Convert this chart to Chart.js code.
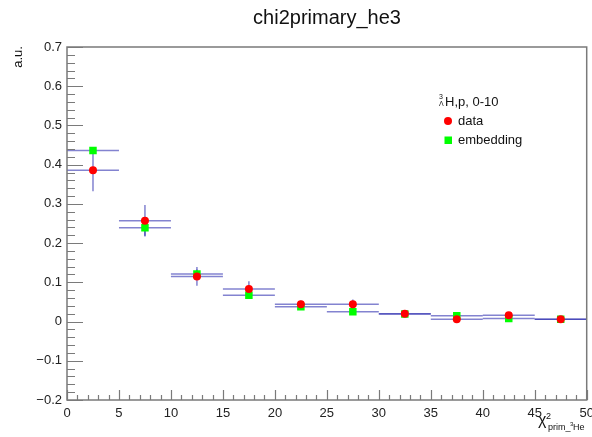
<!DOCTYPE html>
<html>
<head>
<meta charset="utf-8">
<script src="https://cdn.jsdelivr.net/npm/chart.js@4"></script>
<style>
  html, body { margin: 0; padding: 0; background: #fff; }
  #wrap { width: 592px; height: 437px; }
</style>
</head>
<body>
<div id="wrap"><canvas id="chart" width="592" height="437"></canvas></div>
<script>
// bin centres and half widths (chi2 of primary 3He)
const binCenters = [2.5, 7.5, 12.5, 17.5, 22.5, 27.5, 32.5, 37.5, 42.5, 47.5];
const binHalfWidth = 2.5;

// data (red circles)
const dataVals = [0.386, 0.257, 0.115, 0.083, 0.044, 0.044, 0.020, 0.006, 0.016, 0.006];
const dataErr  = [0.054, 0.040, 0.024, 0.020, 0.010, 0.012, 0.005, 0.004, 0.005, 0.004];

// embedding (green squares)
const embVals = [0.436, 0.239, 0.121, 0.067, 0.038, 0.025, 0.019, 0.015, 0.008, 0.006];
const embErr  = [0.006, 0.020, 0.012, 0.008, 0.005, 0.004, 0.003, 0.003, 0.002, 0.002];

const yTicks = [-0.2, -0.1, 0, 0.1, 0.2, 0.3, 0.4, 0.5, 0.6, 0.7];
const xTicks = [0, 5, 10, 15, 20, 25, 30, 35, 40, 45, 50];

const FONT = "'Liberation Sans', Arial, sans-serif";

function toPoints(vals, errs) {
    return binCenters.map((x, i) => ({ x: x, y: vals[i], err: errs[i] }));
}

// error bars, drawn under the markers
const errorBars = {
    id: 'errorBars',
    beforeDatasetsDraw(chart) {
        const ctx = chart.ctx;
        const xs = chart.scales.x, ys = chart.scales.y;
        ctx.save();
        ctx.strokeStyle = 'rgba(30,30,170,0.55)';
        ctx.lineWidth = 1.5;
        chart.data.datasets.forEach(ds => {
            ds.data.forEach(p => {
                const y = ys.getPixelForValue(p.y);
                ctx.beginPath();
                ctx.moveTo(xs.getPixelForValue(p.x - binHalfWidth), y);
                ctx.lineTo(xs.getPixelForValue(p.x + binHalfWidth), y);
                const px = xs.getPixelForValue(p.x);
                ctx.moveTo(px, ys.getPixelForValue(p.y + p.err));
                ctx.lineTo(px, ys.getPixelForValue(p.y - p.err));
                ctx.stroke();
            });
        });
        ctx.restore();
    }
};

// ROOT-like frame, ticks, titles and legend
const rootFrame = {
    id: 'rootFrame',
    afterDraw(chart) {
        const ctx = chart.ctx;
        const a = chart.chartArea;
        const xs = chart.scales.x, ys = chart.scales.y;
        ctx.save();
        ctx.strokeStyle = '#7a7a7a';
        ctx.lineWidth = 1.5;
        ctx.strokeRect(a.left, a.top, a.right - a.left, a.bottom - a.top);

        ctx.lineWidth = 1.2;
        ctx.beginPath();
        // y ticks: major 0.1, minor 0.02
        for (let i = 0; i <= 45; i++) {
            const v = -0.2 + i * 0.02;
            const py = Math.round(ys.getPixelForValue(v)) + 0.5;
            const len = (i % 5 === 0) ? 16 : 8;
            ctx.moveTo(a.left, py);
            ctx.lineTo(a.left + len, py);
        }
        // x ticks: major 5, minor 1
        for (let i = 0; i <= 50; i++) {
            const px = Math.round(xs.getPixelForValue(i)) + 0.5;
            const len = (i % 5 === 0) ? 10 : 5;
            ctx.moveTo(px, a.bottom);
            ctx.lineTo(px, a.bottom - len);
        }
        ctx.stroke();

        // title
        ctx.fillStyle = '#111';
        ctx.font = '20px ' + FONT;
        ctx.textAlign = 'center';
        ctx.textBaseline = 'middle';
        ctx.fillText('chi2primary_he3', 327, 18);

        // y title
        ctx.save();
        ctx.translate(18, 57);
        ctx.rotate(-Math.PI / 2);
        ctx.font = '13px ' + FONT;
        ctx.fillText('a.u.', 0, 0);
        ctx.restore();

        // x title
        ctx.textAlign = 'left';
        ctx.textBaseline = 'alphabetic';
        ctx.font = '16px ' + FONT;
        ctx.fillText('\u03C7', 538, 425);
        ctx.font = '9px ' + FONT;
        ctx.fillText('2', 546, 419);
        ctx.fillText('prim_', 548, 430);
        ctx.font = '6px ' + FONT;
        ctx.fillText('3', 570, 426);
        ctx.font = '9px ' + FONT;
        ctx.fillText('He', 573, 430);

        // legend
        ctx.font = '7px ' + FONT;
        ctx.fillText('3', 439, 99);
        ctx.fillText('\u039B', 439, 106);
        ctx.font = '13px ' + FONT;
        ctx.textBaseline = 'middle';
        ctx.fillText('H,p, 0-10', 445, 102);
        ctx.fillText('data', 458, 121);
        ctx.fillText('embedding', 458, 140);
        ctx.fillStyle = '#ff0000';
        ctx.beginPath();
        ctx.arc(448, 121, 4, 0, Math.PI * 2);
        ctx.fill();
        ctx.fillStyle = '#00ff00';
        ctx.fillRect(444.5, 136.5, 7.5, 7.5);
        ctx.restore();
    }
};

new Chart(document.getElementById('chart'), {
    type: 'scatter',
    data: {
        datasets: [
            {
                label: 'data',
                data: toPoints(dataVals, dataErr),
                pointStyle: 'circle',
                pointRadius: 4,
                pointBackgroundColor: '#ff0000',
                pointBorderWidth: 0
            },
            {
                label: 'embedding',
                data: toPoints(embVals, embErr),
                pointStyle: 'rect',
                pointRadius: 5.3,
                pointBackgroundColor: '#00ff00',
                pointBorderWidth: 0
            }
        ]
    },
    options: {
        responsive: false,
        animation: false,
        devicePixelRatio: 1,
        layout: { padding: { left: 0, top: 47, right: 5, bottom: 0 } },
        plugins: {
            legend: { display: false },
            tooltip: { enabled: false }
        },
        scales: {
            x: {
                type: 'linear',
                min: 0,
                max: 50,
                afterFit: s => { s.height = 37; s.paddingLeft = 0; s.paddingRight = 0; },
                afterBuildTicks: s => { s.ticks = xTicks.map(v => ({ value: v })); },
                grid: { display: false, drawTicks: false },
                border: { display: false },
                ticks: {
                    padding: 6,
                    color: '#222',
                    font: { family: FONT, size: 13 },
                    callback: v => String(v)
                }
            },
            y: {
                type: 'linear',
                min: -0.2,
                max: 0.7,
                afterFit: s => { s.width = 67; s.paddingTop = 0; s.paddingBottom = 0; },
                afterBuildTicks: s => { s.ticks = yTicks.map(v => ({ value: v })); },
                grid: { display: false, drawTicks: false },
                border: { display: false },
                ticks: {
                    padding: 5,
                    color: '#222',
                    font: { family: FONT, size: 13 },
                    callback: v => v === 0 ? '0' : v.toFixed(1).replace('-', '\u2212')
                }
            }
        }
    },
    plugins: [errorBars, rootFrame]
});
</script>
</body>
</html>
